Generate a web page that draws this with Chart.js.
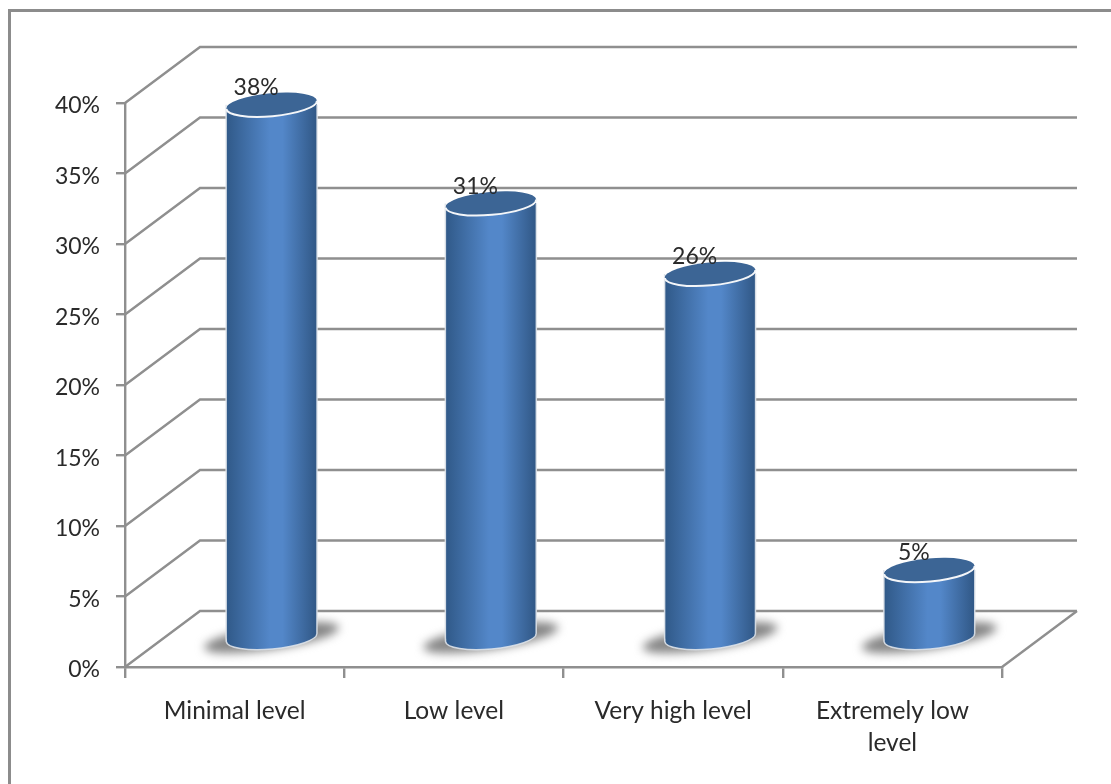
<!DOCTYPE html>
<html>
<head>
<meta charset="utf-8">
<style>
  html, body { margin: 0; padding: 0; background: #ffffff; }
  #wrap { width: 1111px; height: 784px; }
</style>
<script src="https://cdn.jsdelivr.net/npm/chart.js@4"></script>
</head>
<body>
<div id="wrap"><canvas id="chart" width="1111" height="784"></canvas></div>
<script>
// Survey result levels and their shares, in percent.
const categories = ["Minimal level", "Low level", "Very high level", ["Extremely low", "level"]];
const shares = [38, 31, 26, 5];
const yTicks = { min: 0, max: 40, step: 5 };

// Look of the pseudo-3D box and cylinders.
const lineGrey = "#8f8f8f";
const textColor = "#2a2a2a";
const fontFamily = "Lato, 'Open Sans', sans-serif";
const depth = { x: 75, y: -56 };          // back wall offset from the front plane
const barOffset = { x: 37, y: -26.5 };    // cylinders stand half way into the box
const footLift = -3;                      // foot of each cylinder sits slightly behind its offset
const barWidth = 91;
const capTilt = -0.09;
const capRy = 11.5;

function bodyGradient(ctx, cx) {
  if (!Number.isFinite(cx)) return "#4476b4"; // scale not laid out yet
  const g = ctx.createLinearGradient(cx - barWidth / 2, 0, cx + barWidth / 2, 0);
  g.addColorStop(0, "#305988");
  g.addColorStop(0.48, "#5387c9");
  g.addColorStop(0.62, "#5387c9");
  g.addColorStop(1, "#305785");
  return g;
}

function silhouette(ctx, cx, top, bottom) {
  const rx = barWidth / 2;
  ctx.moveTo(cx - rx, top);
  ctx.ellipse(cx, top, rx, capRy, capTilt, Math.PI, 2 * Math.PI);
  ctx.lineTo(cx + rx, bottom);
  ctx.ellipse(cx, bottom, rx, capRy, capTilt, 0, Math.PI);
  ctx.closePath();
}

// Draws the frame, wall grid, floor, cast shadows and cylinder caps around the library's bars.
const boxPlugin = {
  id: "box3d",
  beforeDraw(chart) {
    const c = chart.ctx;
    c.save();
    c.strokeStyle = "#8c8c8c";
    c.lineWidth = 3;
    c.beginPath();
    c.moveTo(9.5, chart.height);
    c.lineTo(9.5, 10.5);
    c.lineTo(chart.width, 10.5);
    c.stroke();
    c.restore();
  },
  beforeDatasetsDraw(chart) {
    const c = chart.ctx;
    const { x: xs, y: ys } = chart.scales;
    const area = chart.chartArea;
    c.save();
    c.strokeStyle = lineGrey;
    c.lineWidth = 2.4;
    c.lineJoin = "miter";
    ys.ticks.forEach(t => {
      const py = ys.getPixelForValue(t.value);
      c.beginPath();
      c.moveTo(area.left, py);
      c.lineTo(area.left + depth.x, py + depth.y);
      c.lineTo(area.right + depth.x, py + depth.y);
      c.stroke();
    });
    const floorY = ys.getPixelForValue(0);
    c.beginPath();
    c.moveTo(area.right, floorY);
    c.lineTo(area.right + depth.x, floorY + depth.y);
    c.stroke();
    c.restore();

    // Soft shadows on the floor
    const base = floorY + barOffset.y + footLift;
    chart.data.labels.forEach((_, i) => {
      const cx = xs.getPixelForValue(i) + barOffset.x;
      c.save();
      c.filter = "blur(5px)";
      c.fillStyle = "#858585";
      c.beginPath();
      c.ellipse(cx, base, 68, 12, -0.15, 0, 2 * Math.PI);
      c.fill();
      c.restore();
    });

    c.save();
    c.translate(barOffset.x, barOffset.y);
    c.save();
    c.beginPath();
    shares.forEach((v, i) => {
      silhouette(c, xs.getPixelForValue(i), ys.getPixelForValue(v), floorY + footLift);
    });
    c.clip();
  },
  afterDatasetsDraw(chart) {
    const c = chart.ctx;
    const { x: xs, y: ys } = chart.scales;
    const foot = ys.getPixelForValue(0) + footLift;
    const rx = barWidth / 2;
    c.restore(); // end of body clip

    shares.forEach((v, i) => {
      const cx = xs.getPixelForValue(i);
      const top = ys.getPixelForValue(v);

      // rounded foot
      c.fillStyle = bodyGradient(c, cx);
      c.beginPath();
      c.ellipse(cx, foot, rx, capRy, capTilt, 0, 2 * Math.PI);
      c.fill();

      // pale rim along the sides and foot
      c.strokeStyle = "rgba(222,227,234,0.9)";
      c.lineWidth = 1.5;
      c.beginPath();
      c.moveTo(cx - rx, top);
      c.lineTo(cx - rx, foot);
      c.ellipse(cx, foot, rx, capRy, capTilt, Math.PI, 0, true);
      c.lineTo(cx + rx, top);
      c.stroke();

      // top cap
      c.fillStyle = "#3c6595";
      c.beginPath();
      c.ellipse(cx, top, rx, capRy, capTilt, 0, 2 * Math.PI);
      c.fill();
      c.strokeStyle = "#f4f6f9";
      c.lineWidth = 2;
      c.beginPath();
      c.ellipse(cx, top, rx, capRy, capTilt, 0, Math.PI);
      c.stroke();
    });
    c.restore(); // end of depth offset

    // value labels sit just above each cap
    c.save();
    c.font = "23px " + fontFamily;
    c.fillStyle = textColor;
    c.textAlign = "center";
    c.textBaseline = "middle";
    shares.forEach((v, i) => {
      const cx = xs.getPixelForValue(i) + barOffset.x;
      const top = ys.getPixelForValue(v) + barOffset.y;
      c.fillText(v + "%", cx - 15.5, top - 17);
    });
    c.restore();
  }
};

new Chart(document.getElementById("chart"), {
  type: "bar",
  plugins: [boxPlugin],
  data: {
    labels: categories,
    datasets: [{
      data: shares,
      barThickness: barWidth,
      borderWidth: 0,
      clip: false,
      backgroundColor: c => bodyGradient(c.chart.ctx, c.chart.scales.x ? c.chart.scales.x.getPixelForValue(c.dataIndex) : NaN)
    }]
  },
  options: {
    responsive: false,
    animation: false,
    events: [],
    layout: { autoPadding: false, padding: { left: 0, right: 109, top: 103, bottom: 0 } },
    plugins: { legend: { display: false }, title: { display: false }, tooltip: { enabled: false } },
    scales: {
      x: {
        afterFit: s => { s.height = 117; },
        border: { color: lineGrey, width: 2.4 },
        grid: { color: lineGrey, lineWidth: 2.4, drawOnChartArea: false, tickLength: 11, offset: true },
        ticks: {
          color: textColor, padding: 17, maxRotation: 0, autoSkip: false,
          font: { family: fontFamily, size: 24.5, lineHeight: 1.3 }
        }
      },
      y: {
        min: yTicks.min,
        max: yTicks.max,
        afterFit: s => { s.width = 125; },
        border: { color: lineGrey, width: 2.4 },
        grid: { color: lineGrey, lineWidth: 2.4, drawOnChartArea: false, tickLength: 9 },
        ticks: {
          stepSize: yTicks.step,
          color: textColor, padding: 16, labelOffset: 3,
          font: { family: fontFamily, size: 23 },
          callback: v => v + "%"
        }
      }
    }
  }
});
</script>
</body>
</html>
